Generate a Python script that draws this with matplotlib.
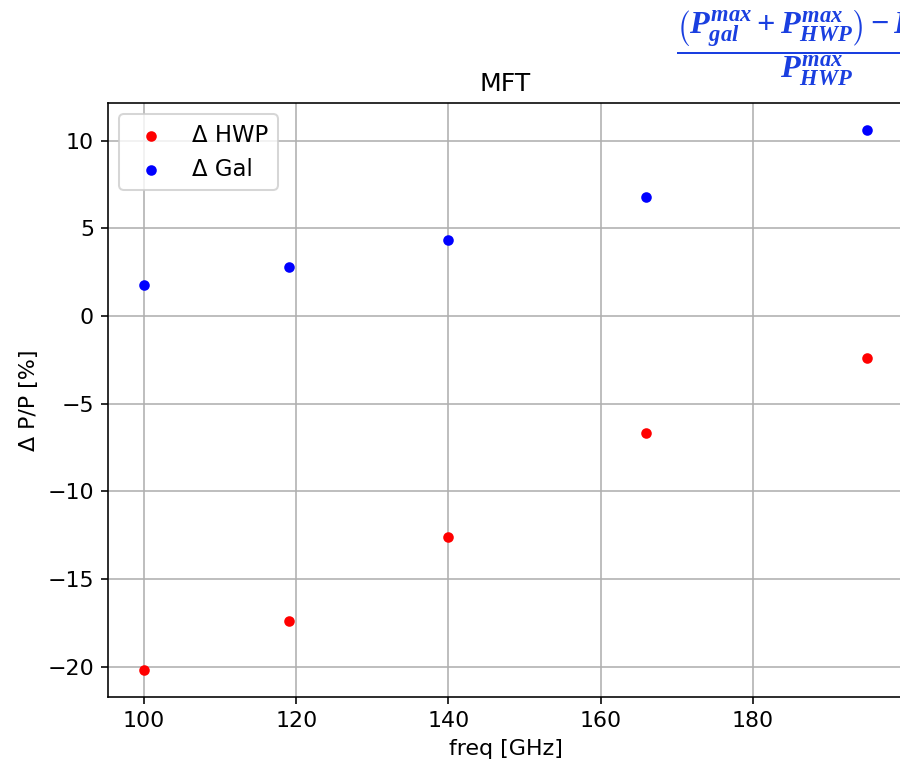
import matplotlib.pyplot as plt

freq = [100, 119, 140, 166, 195]
delta_hwp = [-20.2, -17.4, -12.6, -6.7, -2.4]
delta_gal = [1.75, 2.8, 4.3, 6.8, 10.6]

formula = (r"$\dfrac{\left(P^{max}_{gal}+P^{max}_{HWP}\right)-P^{max}_{tot}}"
           r"{P^{max}_{HWP}}$")

# bold italic serif math for the formula (only mathtext in the figure)
plt.rcParams['mathtext.fontset'] = 'custom'
plt.rcParams['mathtext.it'] = 'Liberation Serif:italic:bold'
plt.rcParams['mathtext.rm'] = 'Liberation Serif:bold'


def main():
    dpi = 145
    fig = plt.figure(figsize=(900 / dpi, 769 / dpi), dpi=dpi)
    ax = fig.add_axes([0.12, 0.0936, 0.8833, 0.7724])

    ax.scatter(freq, delta_hwp, color='red', s=18, label='Δ HWP', zorder=3)
    ax.scatter(freq, delta_gal, color='blue', s=18, label='Δ Gal', zorder=3)

    ax.set_xlabel("freq [GHz]", fontsize=11)
    ax.set_ylabel("Δ P/P [%]", fontsize=11)
    ax.set_title("MFT", fontsize=12.5)
    ax.set_xticks([100, 120, 140, 160, 180])
    ax.set_yticks([-20, -15, -10, -5, 0, 5, 10])
    ax.tick_params(labelsize=11)
    ax.grid(True)
    ax.set_axisbelow(True)
    ax.legend(loc='upper left', fontsize=11.3)

    # formula text, partly outside the figure (cropped like the original)
    fig.text(676 / 900, 1 - 9 / 769, formula, color='#1a3fe0', fontsize=16,
             ha='left', va='top')

    fig.savefig("out.png", dpi=dpi)


if __name__ == "__main__":
    main()
